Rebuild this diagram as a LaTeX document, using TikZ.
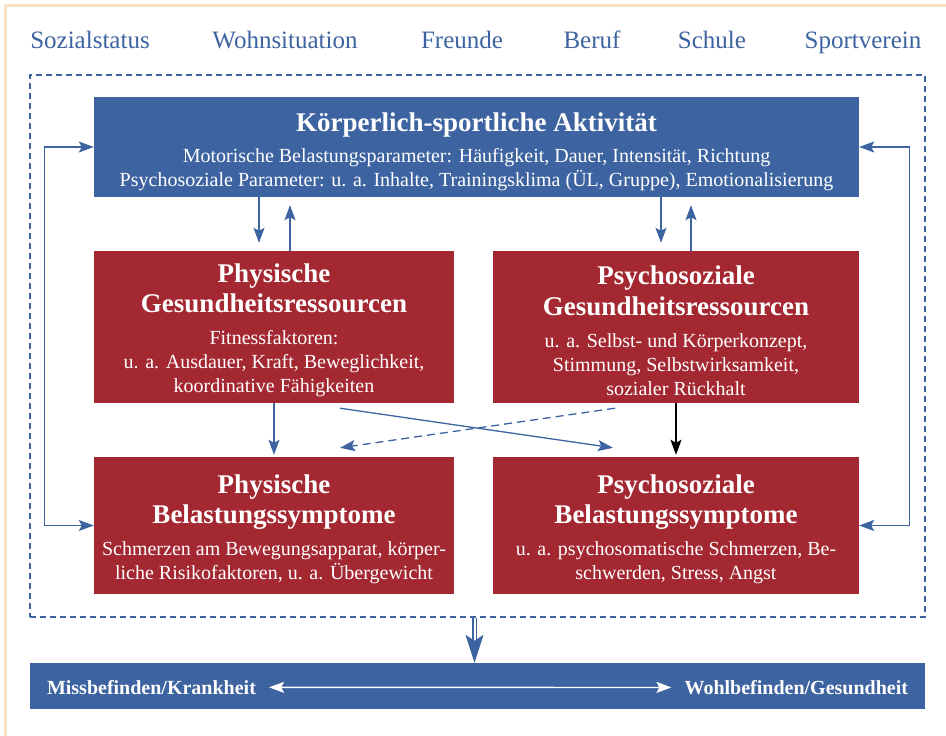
\documentclass[tikz,border=0pt]{standalone}
\usepackage{fontspec}
\setmainfont{Liberation Serif}
\usetikzlibrary{arrows.meta,calc}

\definecolor{blau}{HTML}{3D63A0}
\definecolor{rot}{HTML}{A42831}
\definecolor{sand}{HTML}{F6E3C6}

\newcommand{\titelfont}{\bfseries\fontsize{27pt}{30pt}\selectfont}
\newcommand{\kleinfont}{\fontsize{20pt}{24pt}\selectfont}

\tikzset{
  blaubox/.style={fill=blau, inner sep=0pt},
  rotbox/.style={fill=rot, inner sep=0pt},
  boxtext/.style={text=white, align=center, inner sep=0pt, font=\kleinfont},
  oben/.style={anchor=base, text=blau, font=\fontsize{25pt}{30pt}\selectfont},
  balkentext/.style={text=white, inner sep=0pt, font=\bfseries\kleinfont},
  rahmen/.style={draw=blau, line width=1.2pt, dash pattern=on 6pt off 4pt, inner sep=0pt},
  link/.style={blau, line width=1.3pt, -{Stealth[length=15pt,width=11pt,inset=3pt]}},
  link2/.style={blau, line width=1.3pt, {Stealth[length=15pt,width=11pt,inset=3pt]}-{Stealth[length=15pt,width=11pt,inset=3pt]}},
  weiss/.style={white, line width=1.3pt, {Stealth[length=15pt,width=11pt,inset=3pt]}-{Stealth[length=15pt,width=11pt,inset=3pt]}},
  doppel/.style={blau, line width=1.2pt, double=white, double distance=2pt, -{Stealth[length=28pt,width=18pt,inset=6pt]}}
}

\begin{document}
\begin{tikzpicture}[x=1pt,y=1pt,yscale=-1,xscale=1]
\useasboundingbox (0,0) rectangle (946,736);

%Shape: page edge
\draw[sand, line width=3pt] (5.5,736) -- (5.5,5) -- (946,5);

% Text Node
\node[oben] (sozial) at (90,48) {Sozialstatus};
% Text Node
\node[oben] (wohnen) at (285,48) {Wohnsituation};
% Text Node
\node[oben] (freunde) at (462,48) {Freunde};
% Text Node
\node[oben] (beruf) at (592,48) {Beruf};
% Text Node
\node[oben] (schule) at (712,48) {Schule};
% Text Node
\node[oben] (verein) at (863,48) {Sportverein};

%Shape: dashed frame
\node[rahmen, minimum width=895pt, minimum height=542pt] (feld) at (477.5,346) {};

%Shape: Rectangle
\node[blaubox, minimum width=765pt, minimum height=100pt] (akt) at (476.5,147) {};
%Shape: Rectangle
\node[rotbox, minimum width=360pt, minimum height=152pt] (phres) at (274,327) {};
%Shape: Rectangle
\node[rotbox, minimum width=366pt, minimum height=152pt] (psres) at (676,327) {};
%Shape: Rectangle
\node[rotbox, minimum width=360pt, minimum height=137pt] (phbel) at (274,525.5) {};
%Shape: Rectangle
\node[rotbox, minimum width=366pt, minimum height=137pt] (psbel) at (676,525.5) {};
%Shape: Rectangle
\node[blaubox, minimum width=895pt, minimum height=46pt] (balken) at (477.5,686) {};

% Text Node
\node[boxtext] (akttext) at (476.5,151.5) {{\titelfont Körperlich-sportliche Aktivität}\\[7pt]
  Motorische Belastungsparameter: Häufigkeit, Dauer, Intensität, Richtung\\
  Psychosoziale Parameter: u. a. Inhalte, Trainingsklima (ÜL, Gruppe), Emotionalisierung};
% Text Node
\node[boxtext] (phrestext) at (274,330.5) {{\titelfont Physische}\\[5pt]{\titelfont Gesundheitsressourcen}\\[8pt]
  Fitnessfaktoren:\\u. a. Ausdauer, Kraft, Beweglichkeit,\\koordinative Fähigkeiten};
% Text Node
\node[boxtext] (psrestext) at (676,330.5) {{\titelfont Psychosoziale}\\[5pt]{\titelfont Gesundheitsressourcen}\\[8pt]
  u. a. Selbst- und Körperkonzept,\\Stimmung, Selbstwirksamkeit,\\sozialer Rückhalt};
% Text Node
\node[boxtext] (phbeltext) at (274,529.5) {{\titelfont Physische}\\[5pt]{\titelfont Belastungssymptome}\\[8pt]
  Schmerzen am Bewegungsapparat, körper-\\liche Risikofaktoren, u. a. Übergewicht};
% Text Node
\node[boxtext] (psbeltext) at (676,529.5) {{\titelfont Psychosoziale}\\[5pt]{\titelfont Belastungssymptome}\\[8pt]
  u. a. psychosomatische Schmerzen, Be-\\schwerden, Stress, Angst};
% Text Node
\node[balkentext, anchor=base west] (krank) at ($(balken.west)+(17,8.3)$) {Missbefinden/Krankheit};
% Text Node
\node[balkentext, anchor=base east] (gesund) at ($(balken.east)+(-17,8.3)$) {Wohlbefinden/Gesundheit};

% feedback loops
\draw[link2] (akt.west) -- ++(-49,0) |- (phbel.west);
\draw[link2] (akt.east) -- ++(50,0) |- (psbel.east);

% activity <-> resources
\coordinate (phab) at ($(phres.north)+(-15,0)$);
\coordinate (phauf) at ($(phres.north)+(16,0)$);
\coordinate (psab) at ($(psres.north)+(-15,0)$);
\coordinate (psauf) at ($(psres.north)+(15,0)$);
\draw[link, shorten >=8pt] (phab |- akt.south) -- (phab);
\draw[link, shorten >=8pt] (phauf) -- (phauf |- akt.south);
\draw[link, shorten >=8pt] (psab |- akt.south) -- (psab);
\draw[link, shorten >=8pt] (psauf) -- (psauf |- akt.south);

% resources -> symptoms
\draw[link, shorten >=2pt] (phres) -- (phbel);
\draw[link, black, shorten >=2pt] (psres) -- (psbel);
\draw[link] ($(phres.south)+(66,5)$) -- ($(psbel.north)+(-63,-9)$);
\draw[link, dash pattern=on 8pt off 5pt] ($(psres.south)+(-61,5)$) -- ($(phbel.north)+(66,-9)$);

% outcome
\draw[doppel] ($(feld.south)+(-3,0)$) -- ($(balken.north)+(-3,0)$);
\draw[weiss, shorten <=13pt, shorten >=13pt] (krank.east) -- (gesund.west);

\end{tikzpicture}
\end{document}
